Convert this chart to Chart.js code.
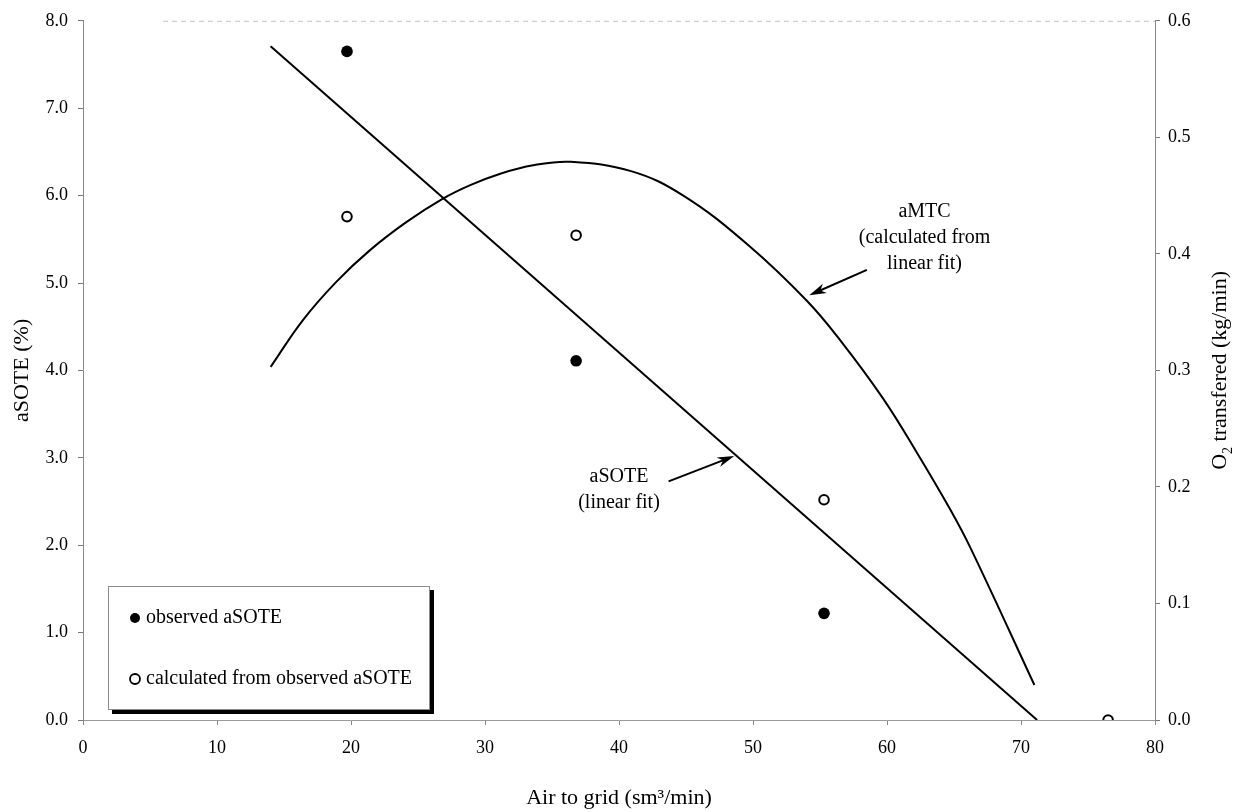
<!DOCTYPE html>
<html>
<head>
<meta charset="utf-8">
<title>aSOTE and aMTC against air to grid</title>
<script src="https://cdn.jsdelivr.net/npm/chart.js@4.4.1/dist/chart.umd.min.js"></script>
<style>
  html, body { margin: 0; padding: 0; background: #fff; }
  #wrap { width: 1249px; height: 812px; }
</style>
</head>
<body>
<div id="wrap"><canvas id="chart" width="1249" height="812"></canvas></div>
<script>
// observed points
const airObs = [19.7, 36.8, 55.3];
const soteObs = [7.65, 4.11, 1.22];

// O2 transferred, calculated from the observed aSOTE (right axis)
const airCalc = [19.7, 36.8, 55.3, 76.5];
const o2Calc = [0.432, 0.416, 0.189, 0.0];

// aSOTE linear fit
const airFit = [14.0, 71.2];
const soteFit = [7.71, 0.0];

// aMTC curve (right axis)
const airMtc = [14.0, 16.4, 18.9, 21.4, 24.1, 26.8, 28.9, 31.2, 33.6, 36.4, 40.9, 44.8, 49.7, 54.0, 56.5, 59.7, 62.2, 64.7, 66.3, 71.0];
const o2Mtc = [0.303, 0.343, 0.376, 0.403, 0.427, 0.447, 0.459, 0.469, 0.476, 0.479, 0.471, 0.450, 0.407, 0.360, 0.326, 0.276, 0.230, 0.181, 0.146, 0.030];

// tick labels
const xTickLabels = ['0', '10', '20', '30', '40', '50', '60', '70', '80'];
const leftTickLabels = ['0.0', '1.0', '2.0', '3.0', '4.0', '5.0', '6.0', '7.0', '8.0'];
const rightTickLabels = ['0.0', '0.1', '0.2', '0.3', '0.4', '0.5', '0.6'];

// annotation texts
const noteMtc = ['aMTC', '(calculated from', 'linear fit)'];
const noteSote = ['aSOTE', '(linear fit)'];

const SERIF = "'Liberation Serif', 'DejaVu Serif', serif";
Chart.defaults.font.family = SERIF;
Chart.defaults.color = '#000';

const pairs = (xs, ys) => xs.map((x, i) => ({ x: x, y: ys[i] }));

function drawArrow(ctx, x1, y1, x2, y2) {
  const a = Math.atan2(y2 - y1, x2 - x1);
  const c = Math.cos(a), s = Math.sin(a);
  ctx.beginPath();
  ctx.moveTo(x1, y1);
  ctx.lineTo(x2 - 8 * c, y2 - 8 * s);
  ctx.lineWidth = 2;
  ctx.stroke();
  ctx.beginPath();
  ctx.moveTo(x2, y2);
  ctx.lineTo(x2 - 17 * c + 5 * s, y2 - 17 * s - 5 * c);
  ctx.lineTo(x2 - 12 * c, y2 - 12 * s);
  ctx.lineTo(x2 - 17 * c - 5 * s, y2 - 17 * s + 5 * c);
  ctx.closePath();
  ctx.fill();
}

const extras = {
  id: 'extras',
  afterDraw(chart) {
    const ctx = chart.ctx;
    const ca = chart.chartArea;
    const sx = chart.scales.x, sy = chart.scales.y;
    ctx.save();

    // faint top border
    ctx.strokeStyle = '#c4c4c4';
    ctx.lineWidth = 1;
    ctx.setLineDash([5, 4]);
    ctx.beginPath();
    ctx.moveTo(ca.left + 80, ca.top + 0.5);
    ctx.lineTo(ca.right, ca.top + 0.5);
    ctx.stroke();
    ctx.setLineDash([]);

    // annotations
    ctx.fillStyle = '#000';
    ctx.strokeStyle = '#000';
    ctx.font = '20px ' + SERIF;
    ctx.textAlign = 'center';
    ctx.textBaseline = 'middle';
    noteMtc.forEach((t, i) => {
      ctx.fillText(t, sx.getPixelForValue(62.8), sy.getPixelForValue(5.81) + i * 26);
    });
    noteSote.forEach((t, i) => {
      ctx.fillText(t, sx.getPixelForValue(40.0), sy.getPixelForValue(2.78) + i * 26);
    });
    drawArrow(ctx, sx.getPixelForValue(58.5), sy.getPixelForValue(5.15),
                   sx.getPixelForValue(54.2), sy.getPixelForValue(4.86));
    drawArrow(ctx, sx.getPixelForValue(43.7), sy.getPixelForValue(2.73),
                   sx.getPixelForValue(48.6), sy.getPixelForValue(3.02));

    // legend box with drop shadow
    const bx = 108, by = 586, bw = 321, bh = 123;
    ctx.fillStyle = '#000';
    ctx.fillRect(bx + 4, by + 4, bw + 1, bh + 1);
    ctx.fillStyle = '#fff';
    ctx.fillRect(bx, by, bw, bh);
    ctx.strokeStyle = '#8c8c8c';
    ctx.lineWidth = 1;
    ctx.strokeRect(bx + 0.5, by + 0.5, bw, bh);

    const items = [chart.data.datasets[0], chart.data.datasets[1]];
    ctx.font = '20px ' + SERIF;
    ctx.textAlign = 'left';
    items.forEach((ds, i) => {
      const my = by + 32 + i * 61;
      ctx.beginPath();
      ctx.arc(bx + 27, my, 5, 0, Math.PI * 2);
      if (ds.backgroundColor === '#000') {
        ctx.fillStyle = '#000';
        ctx.fill();
      } else {
        ctx.fillStyle = '#fff';
        ctx.fill();
        ctx.strokeStyle = '#000';
        ctx.lineWidth = 1.8;
        ctx.stroke();
      }
      ctx.fillStyle = '#000';
      ctx.fillText(ds.label, bx + 38, my);
    });

    // right axis title, read bottom to top, with subscript 2
    ctx.translate(1220, (ca.top + ca.bottom) / 2);
    ctx.rotate(-Math.PI / 2);
    const big = '22px ' + SERIF, small = '14px ' + SERIF;
    ctx.font = big;
    const w1 = ctx.measureText('O').width;
    const w3 = ctx.measureText(' transfered (kg/min)').width;
    ctx.font = small;
    const w2 = ctx.measureText('2').width;
    let x0 = -(w1 + w2 + w3) / 2;
    ctx.textAlign = 'left';
    ctx.font = big;
    ctx.fillText('O', x0, 0);
    ctx.font = small;
    ctx.fillText('2', x0 + w1, 8);
    ctx.font = big;
    ctx.fillText(' transfered (kg/min)', x0 + w1 + w2, 0);
    ctx.restore();
  }
};

new Chart(document.getElementById('chart'), {
  type: 'scatter',
  data: {
    datasets: [
      {
        label: 'observed aSOTE',
        data: pairs(airObs, soteObs),
        yAxisID: 'y',
        pointRadius: 5.8,
        pointBackgroundColor: '#000',
        backgroundColor: '#000',
        borderColor: '#000',
        pointBorderWidth: 0,
        order: 0
      },
      {
        label: 'calculated from observed aSOTE',
        data: pairs(airCalc, o2Calc),
        yAxisID: 'y2',
        pointRadius: 4.8,
        pointBackgroundColor: '#fff',
        backgroundColor: '#fff',
        borderColor: '#000',
        pointBorderWidth: 2,
        order: 1
      },
      {
        label: 'aSOTE (linear fit)',
        data: pairs(airFit, soteFit),
        yAxisID: 'y',
        showLine: true,
        borderColor: '#000',
        borderWidth: 2,
        pointRadius: 0,
        order: 2
      },
      {
        label: 'aMTC',
        data: pairs(airMtc, o2Mtc),
        yAxisID: 'y2',
        showLine: true,
        tension: 0.4,
        borderColor: '#000',
        borderWidth: 2,
        pointRadius: 0,
        order: 3
      }
    ]
  },
  options: {
    responsive: false,
    animation: false,
    layout: { padding: { top: 18, left: 0, right: 0, bottom: 0 } },
    plugins: {
      legend: { display: false },
      tooltip: { enabled: false }
    },
    scales: {
      x: {
        type: 'linear',
        position: 'bottom',
        min: 0,
        max: 80,
        afterFit: s => { s.height = 92; },
        ticks: {
          stepSize: 10,
          padding: 12,
          font: { size: 18 },
          callback: (v, i) => xTickLabels[i]
        },
        grid: { drawOnChartArea: false, tickLength: 5, color: '#888' },
        border: { color: '#9a9a9a', dash: [5, 2] },
        title: {
          display: true,
          text: 'Air to grid (sm³/min)',
          font: { size: 22 },
          padding: { top: 0, bottom: 1 }
        }
      },
      y: {
        position: 'left',
        min: 0,
        max: 8,
        afterFit: s => { s.width = 83; },
        ticks: {
          stepSize: 1,
          padding: 10,
          font: { size: 18 },
          callback: (v, i) => leftTickLabels[i]
        },
        grid: { drawOnChartArea: false, tickLength: 5, color: '#777' },
        border: { color: '#8a8a8a' },
        title: {
          display: true,
          text: 'aSOTE (%)',
          font: { size: 22 },
          padding: { top: 9, bottom: 0 }
        }
      },
      y2: {
        position: 'right',
        min: 0,
        max: 0.6,
        afterFit: s => { s.width = 94; },
        ticks: {
          stepSize: 0.1,
          padding: 8,
          font: { size: 18 },
          callback: (v, i) => rightTickLabels[i]
        },
        grid: { drawOnChartArea: false, tickLength: 5, color: '#777' },
        border: { color: '#8a8a8a' }
      }
    }
  },
  plugins: [extras]
});
</script>
</body>
</html>
